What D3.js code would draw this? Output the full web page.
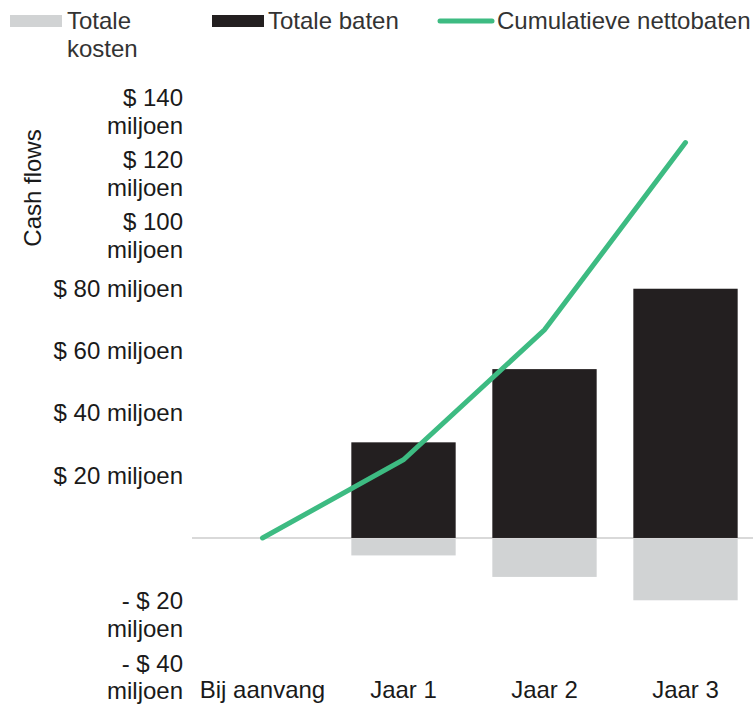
<!DOCTYPE html>
<html>
<head>
<meta charset="utf-8">
<script src="https://cdn.jsdelivr.net/npm/d3@7"></script>
<style>
  html, body { margin: 0; padding: 0; background: #fff; }
  svg text { font-family: "Liberation Sans", Arial, sans-serif; }
</style>
</head>
<body>
<svg id="chart" width="753" height="704"></svg>
<script>
// ---- data ----
const categories = ["Bij aanvang", "Jaar 1", "Jaar 2", "Jaar 3"];
const totaleBaten = [0, 30.7, 54.2, 80];
const totaleKosten = [0, -5.6, -12.5, -20];
const cumulatieveNettobaten = [0, 25.1, 66.8, 126.9];
const yTickValues = [-40, -20, 20, 40, 60, 80, 100, 120, 140];
const yTickLabels = [
  ["- $ 40", "miljoen"],
  ["- $ 20", "miljoen"],
  ["$ 20 miljoen"],
  ["$ 40 miljoen"],
  ["$ 60 miljoen"],
  ["$ 80 miljoen"],
  ["$ 100", "miljoen"],
  ["$ 120", "miljoen"],
  ["$ 140", "miljoen"]
];
const legendLabels = [["Totale", "kosten"], ["Totale baten"], ["Cumulatieve nettobaten"]];
const yTitle = "Cash flows";

// ---- styles ----
const W = 753, H = 704;
const colKosten = "#d1d3d4";
const colBaten = "#231f20";
const colLine = "#3dbb82";
const colText = "#1a1a1a";
const fontSize = 24;

const svg = d3.select("#chart");

const x = d3.scaleBand().domain(categories).range([192, 756]).paddingInner(0.26).paddingOuter(0.13);
const y = d3.scaleLinear().domain([-40, 140]).range([662.6, 101.8]);

// zero line
svg.append("line")
  .attr("x1", 192).attr("x2", W)
  .attr("y1", y(0)).attr("y2", y(0))
  .attr("stroke", "#d9d9d9").attr("stroke-width", 2);

// bars: kosten
svg.append("g").selectAll("rect")
  .data(categories.map((c, i) => ({ c, v: totaleKosten[i] })).filter(d => d.v !== 0))
  .join("rect")
  .attr("x", d => x(d.c))
  .attr("width", x.bandwidth())
  .attr("y", y(0) + 1)
  .attr("height", d => y(d.v) - y(0) - 1)
  .attr("fill", colKosten);

// bars: baten
svg.append("g").selectAll("rect")
  .data(categories.map((c, i) => ({ c, v: totaleBaten[i] })).filter(d => d.v !== 0))
  .join("rect")
  .attr("x", d => x(d.c))
  .attr("width", x.bandwidth())
  .attr("y", d => y(d.v))
  .attr("height", d => y(0) - y(d.v))
  .attr("fill", colBaten);

// cumulative line
const line = d3.line()
  .x((d, i) => x(categories[i]) + x.bandwidth() / 2)
  .y(d => y(d));
svg.append("path")
  .datum(cumulatieveNettobaten)
  .attr("d", line)
  .attr("fill", "none")
  .attr("stroke", colLine)
  .attr("stroke-width", 5)
  .attr("stroke-linecap", "round")
  .attr("stroke-linejoin", "miter");

// y axis
const yAxis = d3.axisLeft(y)
  .tickValues(yTickValues)
  .tickSize(0)
  .tickPadding(0)
  .tickFormat(() => "");
const gy = svg.append("g").attr("transform", "translate(183,0)").call(yAxis);
gy.select(".domain").remove();
gy.selectAll(".tick text").remove();
gy.selectAll(".tick").each(function(d) {
  const idx = yTickValues.indexOf(d);
  const lines = yTickLabels[idx];
  // wrapped labels above zero sit slightly higher in the reference
  const shift = lines.length > 1 && d > 0 ? -5 : (lines.length > 1 ? 0 : -1);
  const t = d3.select(this).append("text")
    .attr("text-anchor", "end")
    .attr("fill", colText)
    .attr("font-size", fontSize)
    .attr("y", shift);
  lines.forEach((l, k) => {
    t.append("tspan").attr("x", 0).attr("dy", k === 0 ? "0.35em" : 28).text(l);
  });
});

// x axis
const xAxis = d3.axisBottom(x).tickSize(0).tickPadding(0);
const gx = svg.append("g").attr("transform", "translate(0,681)").call(xAxis);
gx.select(".domain").remove();
gx.selectAll(".tick text")
  .attr("font-size", fontSize)
  .attr("font-family", "Liberation Sans, Arial, sans-serif")
  .attr("fill", colText)
  .attr("dy", "0.71em");

// y title
svg.append("text")
  .attr("transform", "translate(41,188) rotate(-90)")
  .attr("text-anchor", "middle")
  .attr("font-size", fontSize)
  .attr("fill", colText)
  .text(yTitle);

// legend
const lg = svg.append("g");
const legendItems = [
  { type: "rect", color: colKosten, sx: 10, tx: 67 },
  { type: "rect", color: colBaten, sx: 212, tx: 268 },
  { type: "line", color: colLine, sx: 440, tx: 497 }
];
legendItems.forEach((it, i) => {
  if (it.type === "rect") {
    lg.append("rect").attr("x", it.sx).attr("y", 15).attr("width", 52).attr("height", 12).attr("fill", it.color);
  } else {
    lg.append("line").attr("x1", it.sx).attr("x2", it.sx + 52).attr("y1", 21).attr("y2", 21)
      .attr("stroke", it.color).attr("stroke-width", 5).attr("stroke-linecap", "round");
  }
  const t = lg.append("text").attr("font-size", fontSize).attr("fill", "#333").attr("y", 21);
  legendLabels[i].forEach((l, k) => {
    t.append("tspan").attr("x", it.tx).attr("dy", k === 0 ? "0.35em" : 28).text(l);
  });
});
</script>
</body>
</html>
